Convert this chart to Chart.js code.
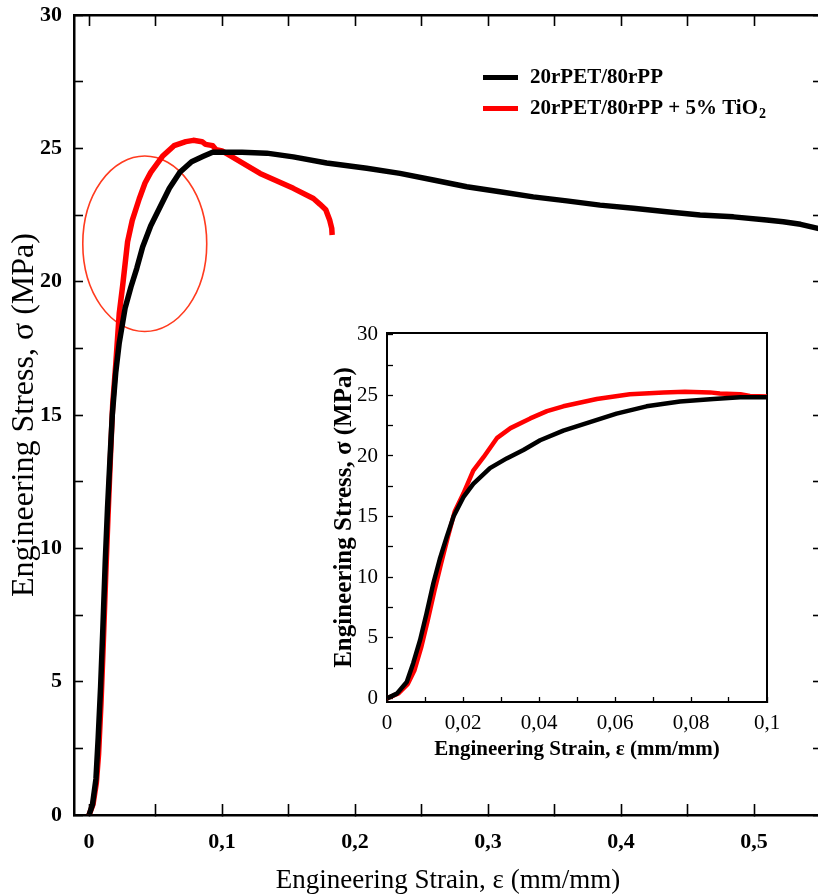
<!DOCTYPE html>
<html>
<head>
<meta charset="utf-8">
<title>Stress-strain</title>
<script src="https://cdn.jsdelivr.net/npm/chart.js@4.4.1/dist/chart.umd.min.js"></script>
<style>
    html, body { margin: 0; padding: 0; background: #fff; overflow: hidden; }
    #wrap { position: relative; width: 818px; height: 895px; overflow: hidden; }
    #mainChart { position: absolute; left: 0; top: 0; }
    #insetChart { position: absolute; left: 330px; top: 320px; }
</style>
</head>
<body>
<div id="wrap">
    <canvas id="mainChart" width="822" height="895"></canvas>
    <canvas id="insetChart" width="450" height="450"></canvas>
</div>
<script>
// series (strain mm/mm, stress MPa)
const seriesLabels = ["20rPET/80rPP", "20rPET/80rPP + 5% TiO\u2082"];

const blackStrain = [0, 0.0026, 0.0052, 0.0069, 0.0087, 0.0104, 0.0122, 0.0139, 0.0157, 0.0175,
    0.0201, 0.0227, 0.0271, 0.0315, 0.0359, 0.0403, 0.0464, 0.0534, 0.0604, 0.0683,
    0.0771, 0.0859, 0.0929, 0.1, 0.115, 0.1336, 0.1536, 0.1787, 0.2088, 0.2338,
    0.2589, 0.284, 0.309, 0.334, 0.3592, 0.3842, 0.4093, 0.4344, 0.4594, 0.4845,
    0.5095, 0.522, 0.535, 0.548, 0.552];
const blackStress = [0, 0.39, 1.35, 2.9, 4.8, 7.0, 9.5, 11.5, 13.3, 15.0,
    16.6, 17.7, 19.0, 19.8, 20.5, 21.3, 22.1, 22.8, 23.5, 24.1,
    24.5, 24.7, 24.85, 24.85, 24.85, 24.82, 24.68, 24.45, 24.25, 24.06,
    23.81, 23.56, 23.37, 23.18, 23.03, 22.87, 22.75, 22.62, 22.5, 22.43,
    22.31, 22.25, 22.15, 22.0, 21.95];

const redStrain = [0, 0.003, 0.0055, 0.0072, 0.009, 0.0107, 0.0125, 0.0142, 0.016, 0.0178,
    0.0201, 0.0227, 0.0254, 0.029, 0.0325, 0.0377, 0.0421, 0.0464, 0.0552, 0.0639,
    0.0728, 0.0784, 0.085, 0.0876, 0.093, 0.0955, 0.1, 0.1035, 0.1286, 0.1536,
    0.1687, 0.1737, 0.178, 0.181, 0.1825, 0.1828];
const redStress = [0, 0.4, 1.2, 2.3, 4.2, 6.4, 8.9, 11.1, 13.3, 15.4,
    16.9, 18.8, 19.9, 21.5, 22.3, 23.1, 23.7, 24.1, 24.7, 25.1,
    25.25, 25.3, 25.25, 25.15, 25.1, 24.95, 24.9, 24.8, 24.06, 23.5,
    23.12, 22.9, 22.7, 22.3, 22.0, 21.75];

const seriesColors = ["#000000", "#ff0000"];

// red ellipse drawn round the yield region (data units)
const ellipseMark = { x: 0.0419, y: 21.42, rx: 0.0466, ry: 3.29 };

const SERIF = "'Liberation Serif', 'Times New Roman', serif";

function toPoints(xs, ys) {
    return xs.map((x, i) => ({ x: x, y: ys[i] }));
}

function mainStrainLabel(value) {
    let h = Math.round(value * 100);
    if (h % 10 !== 0) return "";
    return h === 0 ? "0" : (h / 100).toFixed(1).replace(".", ",");
}

function insetStrainLabel(value) {
    let h = Math.round(value * 100);
    if (h % 2 !== 0) return "";
    if (h === 0) return "0";
    if (h === 10) return "0,1";
    return (h / 100).toFixed(2).replace(".", ",");
}

function stressLabel(value) {
    let t = Math.round(value * 10);
    return t % 50 === 0 ? String(t / 10) : "";
}

// fix the axis box size and drop the label overhang padding
function fixSize(size) {
    return (s) => {
        if (s.isHorizontal()) {
            s.height = size;
        } else {
            s.width = size;
        }
        s.paddingTop = 0;
        s.paddingBottom = 0;
        s.paddingLeft = 0;
        s.paddingRight = 0;
    };
}

function makeDatasets(width) {
    return [
        {
            label: seriesLabels[0],
            data: toPoints(blackStrain, blackStress),
            borderColor: seriesColors[0],
            borderWidth: width,
            pointRadius: 0,
            tension: 0,
            borderJoinStyle: "round",
        },
        {
            label: seriesLabels[1],
            data: toPoints(redStrain, redStress),
            borderColor: seriesColors[1],
            borderWidth: width,
            pointRadius: 0,
            tension: 0,
            borderJoinStyle: "round",
        },
    ];
}

const ellipsePlugin = {
    id: "ellipseMark",
    beforeDatasetsDraw(chart) {
        let ctx = chart.ctx;
        let xs = chart.scales.x;
        let ys = chart.scales.y;
        let cx = xs.getPixelForValue(ellipseMark.x);
        let cy = ys.getPixelForValue(ellipseMark.y);
        let rx = Math.abs(xs.getPixelForValue(ellipseMark.x + ellipseMark.rx) - cx);
        let ry = Math.abs(ys.getPixelForValue(ellipseMark.y + ellipseMark.ry) - cy);
        ctx.save();
        ctx.beginPath();
        ctx.ellipse(cx, cy, rx, ry, 0, 0, 2 * Math.PI);
        ctx.strokeStyle = "#ff3b1f";
        ctx.lineWidth = 1.6;
        ctx.stroke();
        ctx.restore();
    },
};

const legendPlugin = {
    id: "insideLegend",
    afterDraw(chart) {
        let ctx = chart.ctx;
        chart.data.datasets.forEach((ds, i) => {
            let y = 77.5 + i * 31;
            ctx.save();
            ctx.strokeStyle = ds.borderColor;
            ctx.lineWidth = 5;
            ctx.beginPath();
            ctx.moveTo(483, y);
            ctx.lineTo(518, y);
            ctx.stroke();

            ctx.fillStyle = "#000";
            ctx.textBaseline = "middle";
            ctx.font = "bold 21px " + SERIF;
            let parts = ds.label.split("\u2082");
            ctx.fillText(parts[0], 530, y);
            if (parts.length > 1) {
                let w = ctx.measureText(parts[0]).width;
                ctx.font = "bold 14px " + SERIF;
                ctx.fillText("2", 530 + w + 1, y + 6);
            }
            ctx.restore();
        });
    },
};

new Chart(document.getElementById("mainChart"), {
    type: "line",
    data: { datasets: makeDatasets(5.5) },
    plugins: [ellipsePlugin, legendPlugin],
    options: {
        responsive: false,
        devicePixelRatio: 1,
        animation: false,
        layout: { padding: 0 },
        plugins: { legend: { display: false }, tooltip: { enabled: false } },
        scales: {
            x: {
                type: "linear",
                position: "bottom",
                min: -0.0113,
                max: 0.5511,
                afterFit: fixSize(80),
                border: { color: "#000", width: 2.5 },
                grid: { drawOnChartArea: false, tickLength: -11, tickWidth: 1.6, tickColor: "#000" },
                ticks: {
                    stepSize: 0.05,
                    includeBounds: false,
                    autoSkip: false,
                    maxTicksLimit: 100,
                    maxRotation: 0,
                    minRotation: 0,
                    padding: 25,
                    color: "#000",
                    font: { family: SERIF, size: 22, weight: "bold" },
                    callback: mainStrainLabel,
                },
                title: {
                    display: true,
                    text: "Engineering Strain, \u03b5 (mm/mm)",
                    color: "#000",
                    font: { family: SERIF, size: 27, lineHeight: 1 },
                    padding: { top: 0, bottom: 1 },
                },
            },
            x2: {
                type: "linear",
                position: "top",
                min: -0.0113,
                max: 0.5511,
                afterFit: fixSize(15),
                border: { color: "#000", width: 2.5 },
                grid: { drawOnChartArea: false, tickLength: -11, tickWidth: 1.6, tickColor: "#000" },
                ticks: { display: false, stepSize: 0.05, includeBounds: false, autoSkip: false, maxTicksLimit: 100 },
            },
            y: {
                type: "linear",
                position: "left",
                min: 0,
                max: 30,
                afterFit: fixSize(74),
                border: { color: "#000", width: 2.5 },
                grid: { drawOnChartArea: false, tickLength: -9, tickWidth: 1.6, tickColor: "#000" },
                ticks: {
                    stepSize: 2.5,
                    includeBounds: false,
                    autoSkip: false,
                    maxTicksLimit: 100,
                    padding: 21,
                    color: "#000",
                    font: { family: SERIF, size: 22, weight: "bold" },
                    callback: stressLabel,
                },
                title: {
                    display: true,
                    text: "Engineering Stress, \u03c3 (MPa)",
                    color: "#000",
                    font: { family: SERIF, size: 32, lineHeight: 1 },
                    padding: { top: 9, bottom: 0 },
                },
            },
            y2: {
                type: "linear",
                position: "right",
                min: 0,
                max: 30,
                afterFit: fixSize(0),
                border: { color: "#000", width: 2.5 },
                grid: { drawOnChartArea: false, tickLength: -9, tickWidth: 1.6, tickColor: "#000" },
                ticks: { display: false, stepSize: 2.5, includeBounds: false, autoSkip: false, maxTicksLimit: 100 },
            },
        },
    },
});

new Chart(document.getElementById("insetChart"), {
    type: "line",
    data: { datasets: makeDatasets(4.5) },
    options: {
        responsive: false,
        devicePixelRatio: 1,
        animation: false,
        layout: { padding: 0 },
        plugins: { legend: { display: false }, tooltip: { enabled: false } },
        scales: {
            x: {
                type: "linear",
                position: "bottom",
                min: 0,
                max: 0.1,
                afterFit: fixSize(68),
                border: { color: "#000", width: 2 },
                grid: { drawOnChartArea: false, tickLength: -5, tickWidth: 1.3, tickColor: "#000" },
                ticks: {
                    stepSize: 0.01,
                    includeBounds: false,
                    autoSkip: false,
                    maxTicksLimit: 100,
                    maxRotation: 0,
                    minRotation: 0,
                    padding: 13.7,
                    color: "#000",
                    font: { family: SERIF, size: 21 },
                    callback: insetStrainLabel,
                },
                title: {
                    display: true,
                    text: "Engineering Strain, \u03b5 (mm/mm)",
                    color: "#000",
                    font: { family: SERIF, size: 21, weight: "bold", lineHeight: 1 },
                    padding: { top: 0, bottom: 9.5 },
                },
            },
            x2: {
                type: "linear",
                position: "top",
                min: 0,
                max: 0.1,
                afterFit: fixSize(13),
                border: { color: "#000", width: 2 },
                grid: { display: false },
                ticks: { display: false },
            },
            y: {
                type: "linear",
                position: "left",
                min: -0.3,
                max: 30.15,
                afterFit: fixSize(57),
                border: { color: "#000", width: 2 },
                grid: { drawOnChartArea: false, tickLength: -6, tickWidth: 1.3, tickColor: "#000" },
                ticks: {
                    stepSize: 2.5,
                    includeBounds: false,
                    autoSkip: false,
                    maxTicksLimit: 100,
                    padding: 15,
                    color: "#000",
                    font: { family: SERIF, size: 21 },
                    callback: stressLabel,
                },
                title: {
                    display: true,
                    text: "Engineering Stress, \u03c3 (MPa)",
                    color: "#000",
                    font: { family: SERIF, size: 25, weight: "bold", lineHeight: 1 },
                    padding: { top: 2, bottom: 0 },
                },
            },
            y2: {
                type: "linear",
                position: "right",
                min: -0.3,
                max: 30.15,
                afterFit: fixSize(13),
                border: { color: "#000", width: 2 },
                grid: { display: false },
                ticks: { display: false },
            },
        },
    },
});
</script>
</body>
</html>
